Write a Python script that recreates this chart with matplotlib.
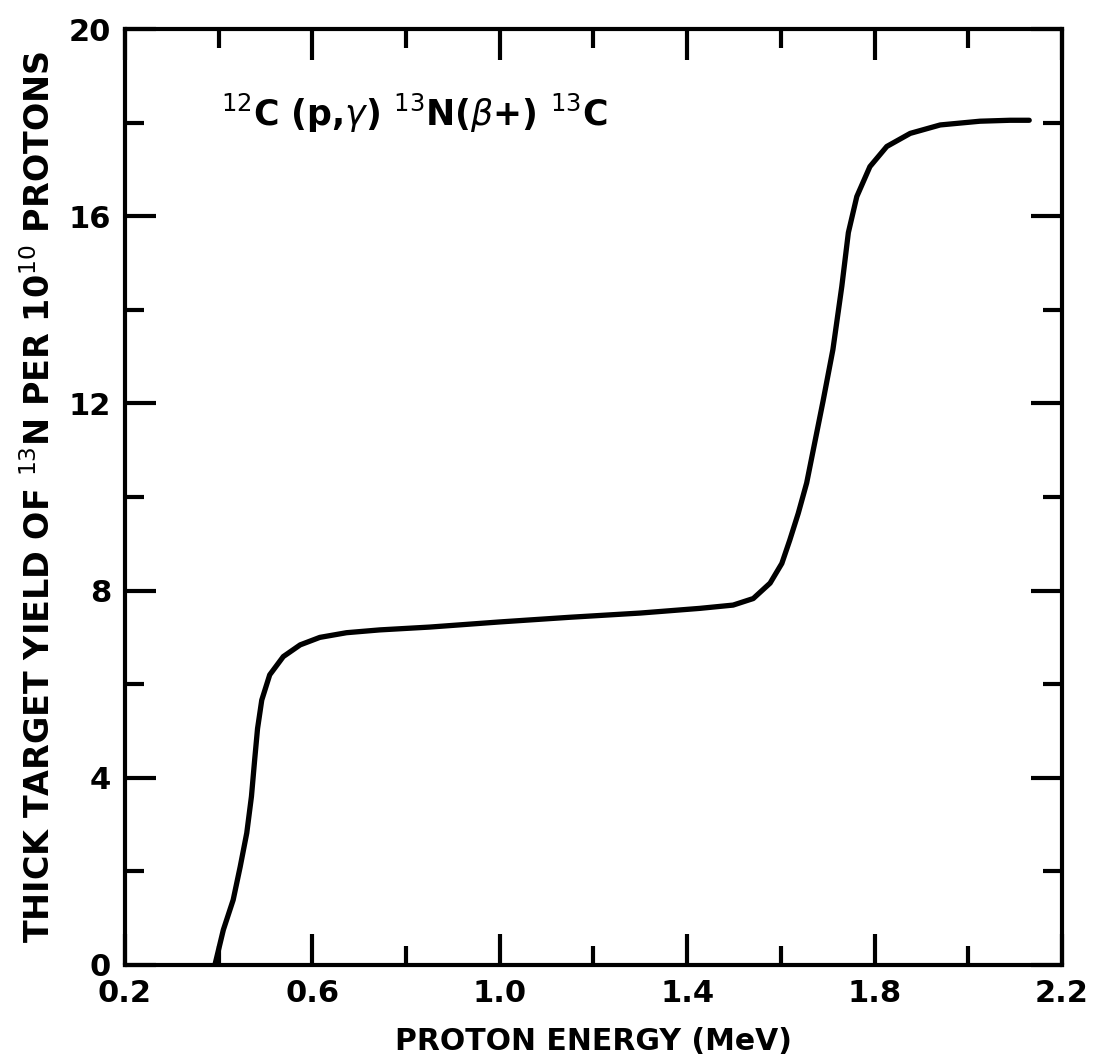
import matplotlib
matplotlib.use("Agg")
import matplotlib.pyplot as plt
from matplotlib.ticker import FixedLocator

plt.rcParams['font.family'] = ['DejaVu Sans']
plt.rcParams['mathtext.fontset'] = 'dejavusans'

# Data
energy_mev = [0.392, 0.410, 0.431, 0.446, 0.460, 0.470, 0.477, 0.483, 0.492,
              0.509, 0.538, 0.574, 0.616, 0.673, 0.744, 0.85, 1.00, 1.15, 1.30,
              1.427, 1.498, 1.541, 1.577, 1.602, 1.619, 1.637, 1.655, 1.668,
              1.690, 1.711, 1.730, 1.744, 1.762, 1.790, 1.826, 1.876, 1.940,
              2.025, 2.089, 2.13]
yield_13n = [0.0, 0.75, 1.39, 2.1, 2.82, 3.6, 4.4, 5.05, 5.66,
             6.2, 6.59, 6.84, 7.0, 7.1, 7.16, 7.22, 7.33, 7.43, 7.52,
             7.62, 7.69, 7.83, 8.16, 8.58, 9.08, 9.65, 10.3, 10.95,
             12.05, 13.15, 14.5, 15.65, 16.42, 17.06, 17.49, 17.77, 17.95,
             18.03, 18.05, 18.05]

x_major = [0.2, 0.6, 1.0, 1.4, 1.8, 2.2]
x_minor = [0.4, 0.8, 1.2, 1.6, 2.0]
x_labels = ["0.2", "0.6", "1.0", "1.4", "1.8", "2.2"]
y_major = [0, 4, 8, 12, 16, 20]
y_minor = [2, 6, 10, 14, 18]
y_labels = ["0", "4", "8", "12", "16", "20"]

fig = plt.figure(figsize=(10.96, 10.59), dpi=100)
ax = fig.add_axes([0.114, 0.0888, 0.855, 0.8838])

ax.plot(energy_mev, yield_13n, color='black', lw=3.8, solid_capstyle='round',
        solid_joinstyle='round')

ax.set_xlim(0.2, 2.2)
ax.set_ylim(0, 20)
ax.xaxis.set_major_locator(FixedLocator(x_major))
ax.xaxis.set_minor_locator(FixedLocator(x_minor))
ax.yaxis.set_major_locator(FixedLocator(y_major))
ax.yaxis.set_minor_locator(FixedLocator(y_minor))
ax.set_xticklabels(x_labels)
ax.set_yticklabels(y_labels)

for s in ax.spines.values():
    s.set_linewidth(3.0)

ax.tick_params(which='both', direction='in', top=True, right=True, width=3.0,
               labelsize=22, colors='black')
ax.tick_params(which='major', length=22, pad=10)
ax.tick_params(which='minor', length=14)
for lab in ax.get_xticklabels() + ax.get_yticklabels():
    lab.set_fontweight('bold')

ax.set_xlabel("PROTON ENERGY (MeV)", fontsize=21.5, fontweight='bold', labelpad=14)
ax.set_ylabel(r"THICK TARGET YIELD OF $^{13}$N PER 10$^{10}$ PROTONS",
              fontsize=24, fontweight='bold', labelpad=8)

ax.text(0.405, 18.2, r"$^{12}$C (p,$\gamma$) $^{13}$N($\beta$+) $^{13}$C",
        fontsize=25, fontweight='bold', ha='left', va='center')

fig.savefig("out.png", dpi=100)
